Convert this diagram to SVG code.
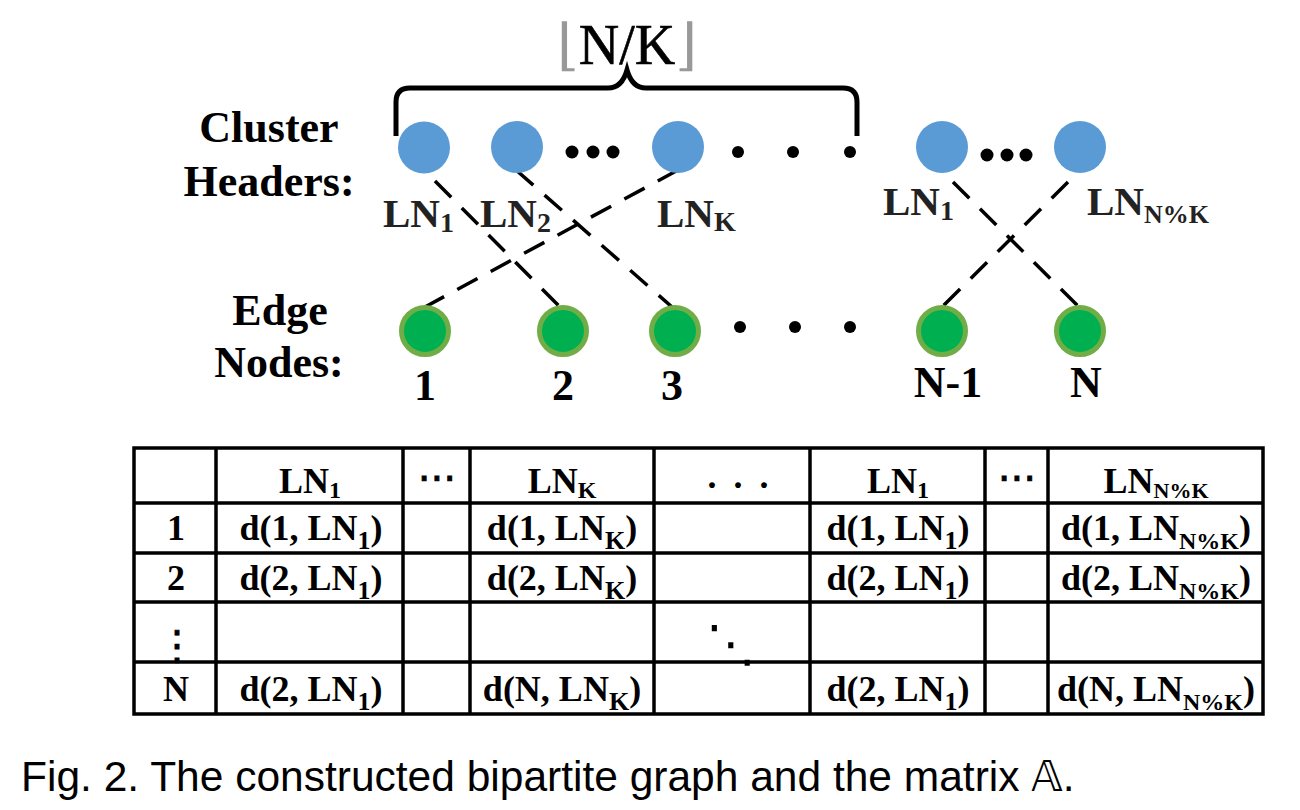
<svg xmlns="http://www.w3.org/2000/svg" width="1300" height="810" viewBox="0 0 1300 810">
<style>
.lbl{font-family:"Liberation Serif","Times New Roman",serif;font-weight:bold;fill:#000}
.ln{font-family:"Liberation Serif","Times New Roman",serif;font-weight:bold;fill:#222;font-size:41px}
.tb{font-family:"Liberation Serif","Times New Roman",serif;font-weight:bold;fill:#000;font-size:36px;text-anchor:middle}
.sym{font-family:"DejaVu Sans",sans-serif;fill:#000;text-anchor:middle}
.head{fill:#5b9bd5}
.edge{fill:#00b050;stroke:#70ad47;stroke-width:5}
.dot{fill:#000}
.dash{stroke:#000;stroke-width:3.5;stroke-dasharray:23 15;fill:none}
.grid{stroke:#000;stroke-width:3.5;fill:none}
</style>
<rect width="1300" height="810" fill="#fff"/>

<!-- brace and label -->
<g id="brace">
<path d="M396,136 V102 Q396,88 410,88 H608 Q622,88 627,70 Q632,88 646,88 H843 Q857,88 857,102 V136" fill="none" stroke="#000" stroke-width="5"/>
<text x="627" y="64" text-anchor="middle" font-family="'Liberation Serif','DejaVu Serif',serif" font-size="56" stroke="#000" stroke-width="0.6"><tspan fill="#999" stroke="none">⌊</tspan><tspan fill="#000">N/K</tspan><tspan fill="#999" stroke="none">⌋</tspan></text>
</g>

<!-- row labels -->
<g id="label-cluster-headers">
<text class="lbl" font-size="44" x="269" y="142" text-anchor="middle">Cluster</text>
<text class="lbl" font-size="44" x="269" y="196" text-anchor="middle">Headers:</text>
</g>
<g id="label-edge-nodes">
<text class="lbl" font-size="44" x="280" y="325" text-anchor="middle">Edge</text>
<text class="lbl" font-size="44" x="279" y="377" text-anchor="middle">Nodes:</text>
</g>

<!-- connectors -->
<g id="connectors">
<line class="dash" x1="435" y1="181" x2="560" y2="307"/>
<line class="dash" x1="516" y1="170" x2="672" y2="307"/>
<line class="dash" x1="678" y1="170" x2="425" y2="307"/>
<line class="dash" x1="953" y1="182" x2="1080" y2="308"/>
<line class="dash" x1="1068" y1="182" x2="941" y2="308"/>
<circle class="dot" cx="942" cy="170" r="1.8"/>
<circle class="dot" cx="1080" cy="170" r="1.8"/>
</g>

<!-- cluster headers -->
<g id="head-ln1"><circle class="head" cx="424" cy="147.5" r="26"/>
<text class="ln" x="383" y="227">LN<tspan font-size="28" dy="5">1</tspan></text></g>
<g id="head-ln2"><circle class="head" cx="517" cy="147" r="26"/>
<text class="ln" x="480" y="227">LN<tspan font-size="28" dy="5">2</tspan></text></g>
<g id="head-dots1"><circle class="dot" cx="572" cy="152" r="6.5"/><circle class="dot" cx="593" cy="152" r="6.5"/><circle class="dot" cx="613" cy="152" r="6.5"/></g>
<g id="head-lnk"><circle class="head" cx="678" cy="147" r="26"/>
<text class="ln" x="657" y="227">LN<tspan font-size="28" dy="4">K</tspan></text></g>
<g id="head-dots2"><circle class="dot" cx="738" cy="152" r="6"/><circle class="dot" cx="793" cy="152" r="6"/><circle class="dot" cx="850" cy="152" r="6"/></g>
<g id="head-ln1b"><circle class="head" cx="942" cy="147" r="26"/>
<text class="ln" x="883" y="215">LN<tspan font-size="28" dy="5">1</tspan></text></g>
<g id="head-dots3"><circle class="dot" cx="987" cy="155" r="6.5"/><circle class="dot" cx="1007" cy="155" r="6.5"/><circle class="dot" cx="1026" cy="155" r="6.5"/></g>
<g id="head-lnnk"><circle class="head" cx="1080" cy="147" r="26"/>
<text class="ln" x="1087" y="215">LN<tspan font-size="26" dy="8">N%K</tspan></text></g>

<!-- edge nodes -->
<g id="edge-1"><circle class="edge" cx="425" cy="331" r="23.5"/><text class="lbl" font-size="44" x="425" y="400" text-anchor="middle">1</text></g>
<g id="edge-2"><circle class="edge" cx="563" cy="331" r="23.5"/><text class="lbl" font-size="44" x="563" y="400" text-anchor="middle">2</text></g>
<g id="edge-3"><circle class="edge" cx="675" cy="331" r="23.5"/><text class="lbl" font-size="44" x="672" y="400" text-anchor="middle">3</text></g>
<g id="edge-dots"><circle class="dot" cx="740" cy="327" r="6"/><circle class="dot" cx="795" cy="327" r="6"/><circle class="dot" cx="850" cy="327" r="6"/></g>
<g id="edge-n1"><circle class="edge" cx="942" cy="331" r="23.5"/><text class="lbl" font-size="44" x="948" y="397" text-anchor="middle">N-1</text></g>
<g id="edge-n"><circle class="edge" cx="1080" cy="331" r="23.5"/><text class="lbl" font-size="44" x="1086" y="397" text-anchor="middle">N</text></g>

<!-- matrix -->
<g id="matrix">
<g id="matrix-text">
<text class="tb" x="310" y="493">LN<tspan font-size="24" dy="5">1</tspan></text>
<text class="sym" font-size="38" x="437" y="490" stroke="#000" stroke-width="1">⋯</text>
<text class="tb" x="562" y="493">LN<tspan font-size="24" dy="5">K</tspan></text>
<text class="tb" x="740" y="488" letter-spacing="4">. . .</text>
<text class="tb" x="898" y="493">LN<tspan font-size="24" dy="5">1</tspan></text>
<text class="sym" font-size="38" x="1017" y="490" stroke="#000" stroke-width="1">⋯</text>
<text class="tb" x="1156" y="493">LN<tspan font-size="22" dy="5">N%K</tspan></text>

<text class="tb" x="176" y="540">1</text>
<text class="tb" x="311" y="540">d(1, LN<tspan font-size="26" dy="9">1</tspan><tspan dy="-9">)</tspan></text>
<text class="tb" x="562" y="540">d(1, LN<tspan font-size="26" dy="9">K</tspan><tspan dy="-9">)</tspan></text>
<text class="tb" x="898" y="540">d(1, LN<tspan font-size="26" dy="9">1</tspan><tspan dy="-9">)</tspan></text>
<text class="tb" x="1156" y="540">d(1, LN<tspan font-size="24" dy="9">N%K</tspan><tspan dy="-9">)</tspan></text>

<text class="tb" x="176" y="590">2</text>
<text class="tb" x="311" y="590">d(2, LN<tspan font-size="26" dy="9">1</tspan><tspan dy="-9">)</tspan></text>
<text class="tb" x="562" y="590">d(2, LN<tspan font-size="26" dy="9">K</tspan><tspan dy="-9">)</tspan></text>
<text class="tb" x="898" y="590">d(2, LN<tspan font-size="26" dy="9">1</tspan><tspan dy="-9">)</tspan></text>
<text class="tb" x="1156" y="590">d(2, LN<tspan font-size="24" dy="9">N%K</tspan><tspan dy="-9">)</tspan></text>

<text class="sym" font-size="40" x="177" y="659" stroke="#000" stroke-width="0.8">⋮</text>
<text class="sym" font-size="50" x="731" y="661">⋱</text>

<text class="tb" x="176" y="701">N</text>
<text class="tb" x="311" y="701">d(2, LN<tspan font-size="26" dy="9">1</tspan><tspan dy="-9">)</tspan></text>
<text class="tb" x="562" y="701">d(N, LN<tspan font-size="26" dy="9">K</tspan><tspan dy="-9">)</tspan></text>
<text class="tb" x="898" y="701">d(2, LN<tspan font-size="26" dy="9">1</tspan><tspan dy="-9">)</tspan></text>
<text class="tb" x="1156" y="701">d(N, LN<tspan font-size="24" dy="9">N%K</tspan><tspan dy="-9">)</tspan></text>
</g>
<rect x="0" y="714" width="1300" height="20" fill="#fff"/>
<g id="matrix-grid" class="grid">
<rect x="134" y="448" width="1129" height="266"/>
<line x1="134" y1="503" x2="1263" y2="503"/>
<line x1="134" y1="553" x2="1263" y2="553"/>
<line x1="134" y1="602" x2="1263" y2="602"/>
<line x1="134" y1="662" x2="1263" y2="662"/>
<line x1="216" y1="448" x2="216" y2="714"/>
<line x1="403" y1="448" x2="403" y2="714"/>
<line x1="470" y1="448" x2="470" y2="714"/>
<line x1="654" y1="448" x2="654" y2="714"/>
<line x1="810" y1="448" x2="810" y2="714"/>
<line x1="985" y1="448" x2="985" y2="714"/>
<line x1="1048" y1="448" x2="1048" y2="714"/>
</g>
</g>

<g id="caption">
<text x="21" y="791" font-family="'Liberation Sans',Arial,'DejaVu Sans',sans-serif" font-size="42.5" fill="#000">Fig. 2. The constructed bipartite graph and the matrix 𝔸.</text>
</g>
</svg>
